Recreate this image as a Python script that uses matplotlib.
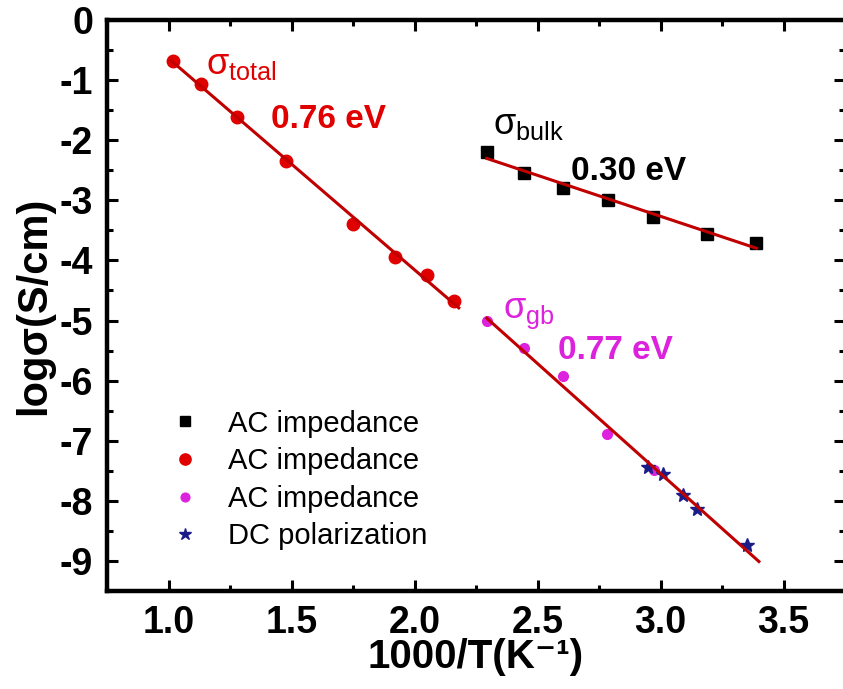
import numpy as np
import matplotlib
matplotlib.use("Agg")
import matplotlib.pyplot as plt

plt.rcParams['font.family'] = ['Liberation Sans', 'DejaVu Sans']
plt.rcParams['axes.unicode_minus'] = False

# sigma_total (red circles)
x_total = [1.02, 1.133, 1.28, 1.476, 1.75, 1.92, 2.05, 2.16]
y_total = [-0.68, -1.07, -1.62, -2.34, -3.39, -3.94, -4.24, -4.67]

# sigma_bulk (black squares)
x_bulk = [2.294, 2.444, 2.605, 2.786, 2.97, 3.19, 3.39]
y_bulk = [-2.19, -2.55, -2.79, -2.99, -3.27, -3.56, -3.71]

# sigma_gb (magenta circles)
x_gb = [2.294, 2.444, 2.605, 2.782, 2.972]
y_gb = [-5.01, -5.46, -5.93, -6.88, -7.48]

# DC polarization (stars)
x_dc = [2.948, 3.012, 3.093, 3.149, 3.35]
y_dc = [-7.44, -7.55, -7.90, -8.13, -8.73]

red = '#e00000'
mag = '#dd22dd'
navy = '#1c1c88'
fitc = '#c00000'

fig = plt.figure(figsize=(8.43, 6.89), dpi=100)
ax = fig.add_axes([107/843, 98/689, 738/843, 571/689])


def fit_line(xs, ys, x0, x1):
    k, b = np.polyfit(xs, ys, 1)
    xx = np.array([x0, x1])
    ax.plot(xx, k * xx + b, color=fitc, lw=2.2, zorder=4)


ax.plot(x_bulk, y_bulk, 's', color='black', ms=8, label='AC impedance', zorder=3)
ax.plot(x_total, y_total, 'o', color=red, ms=9, label='AC impedance', zorder=3)
ax.plot(x_gb, y_gb, 'o', color=mag, ms=7, label='AC impedance', zorder=3)
ax.plot(x_dc, y_dc, '*', color=navy, ms=10, label='DC polarization', zorder=3)

fit_line(x_total, y_total, min(x_total) - 0.01, max(x_total) + 0.02)
fit_line(x_bulk, y_bulk, min(x_bulk), max(x_bulk))
fit_line(x_gb + x_dc, y_gb + y_dc, min(x_gb), max(x_dc) + 0.05)

ax.set_xlim(0.75, 3.725)
ax.set_ylim(-9.5, 0)
ax.set_xticks([1.0, 1.5, 2.0, 2.5, 3.0, 3.5])
ax.set_xticks(np.arange(0.75, 3.8, 0.25), minor=True)
ax.set_yticks(range(-9, 1))
ax.set_yticks(np.arange(-9.5, 0.1, 0.5), minor=True)

ax.tick_params(which='both', direction='in', top=True, right=True, width=2.2)
ax.tick_params(which='major', length=8, labelsize=27, pad=10)
ax.tick_params(which='minor', length=4)
for lab in ax.get_xticklabels() + ax.get_yticklabels():
    lab.set_fontweight('bold')
for s in ax.spines.values():
    s.set_linewidth(3.2)

ax.set_xlabel('1000/T(K\u207b\u00b9)', fontsize=29, fontweight='bold', labelpad=-2)
ax.set_ylabel('log\u03c3(S/cm)', fontsize=30, fontweight='bold', labelpad=4)

ax.text(1.153, -0.90, r'$\mathregular{\sigma_{total}}$', color=red, fontsize=26)
ax.text(1.415, -1.80, '0.76 eV', color=red, fontsize=24, fontweight='bold')
ax.text(2.319, -1.89, r'$\mathregular{\sigma_{bulk}}$', color='black', fontsize=26)
ax.text(2.637, -2.67, '0.30 eV', color='black', fontsize=24, fontweight='bold')
ax.text(2.359, -4.96, r'$\mathregular{\sigma_{gb}}$', color=mag, fontsize=26)
ax.text(2.585, -5.64, '0.77 eV', color=mag, fontsize=24, fontweight='bold')

ax.legend(loc='lower left', bbox_to_anchor=(0.03, 0.025), frameon=False,
          fontsize=21, handletextpad=0.5, labelspacing=0.33, markerscale=0.9)

fig.savefig('out.png', dpi=100)
